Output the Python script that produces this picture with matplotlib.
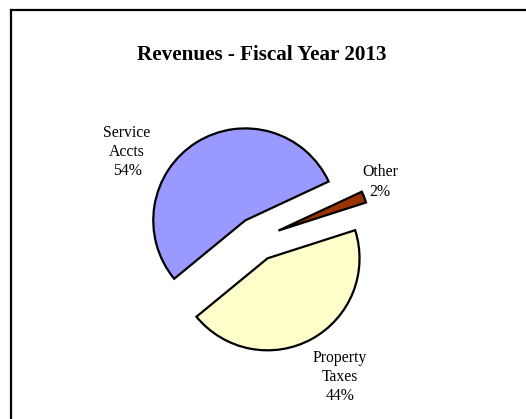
import matplotlib.pyplot as plt
from matplotlib.lines import Line2D

plt.rcParams['font.family'] = ['Liberation Serif', 'DejaVu Serif']

# data
categories = ["Service\nAccts", "Property\nTaxes", "Other"]
shares = [54, 44, 2]
colors = ["#9999FF", "#FFFFCC", "#993300"]

W, H = 526, 419
fig = plt.figure(figsize=(W / 100, H / 100), dpi=100)
ax = fig.add_axes([0, 0, 1, 1])

cx, cy, r = 257, H - 239, 92
# explode is in data units here (pixels)
wedges, _ = ax.pie(shares, colors=colors, startangle=25, counterclock=True,
                   center=(cx, cy), radius=r, explode=[22, 22, 23],
                   wedgeprops=dict(edgecolor="black", linewidth=1.6, joinstyle="miter"),
                   frame=True)
ax.set_xlim(0, W)
ax.set_ylim(0, H)
ax.set_aspect("equal")
ax.axis("off")

# labels
label_pos = [(127, H - 152), (340, H - 377), (380, H - 182)]
for name, val, (lx, ly) in zip(categories, shares, label_pos):
    ax.text(lx, ly, "%s\n%d%%" % (name, val), ha="center", va="center",
            fontsize=11.3, linespacing=1.27)

ax.text(262, H - 55, "Revenues - Fiscal Year 2013", ha="center", va="center",
        fontsize=15.2, fontweight="bold")

# chart border (only left/top visible)
ax.add_line(Line2D([11, 11], [H - 10, 0], color="black", lw=1.6))
ax.add_line(Line2D([11, W], [H - 10, H - 10], color="black", lw=1.6))

fig.savefig("out.png", dpi=100)
